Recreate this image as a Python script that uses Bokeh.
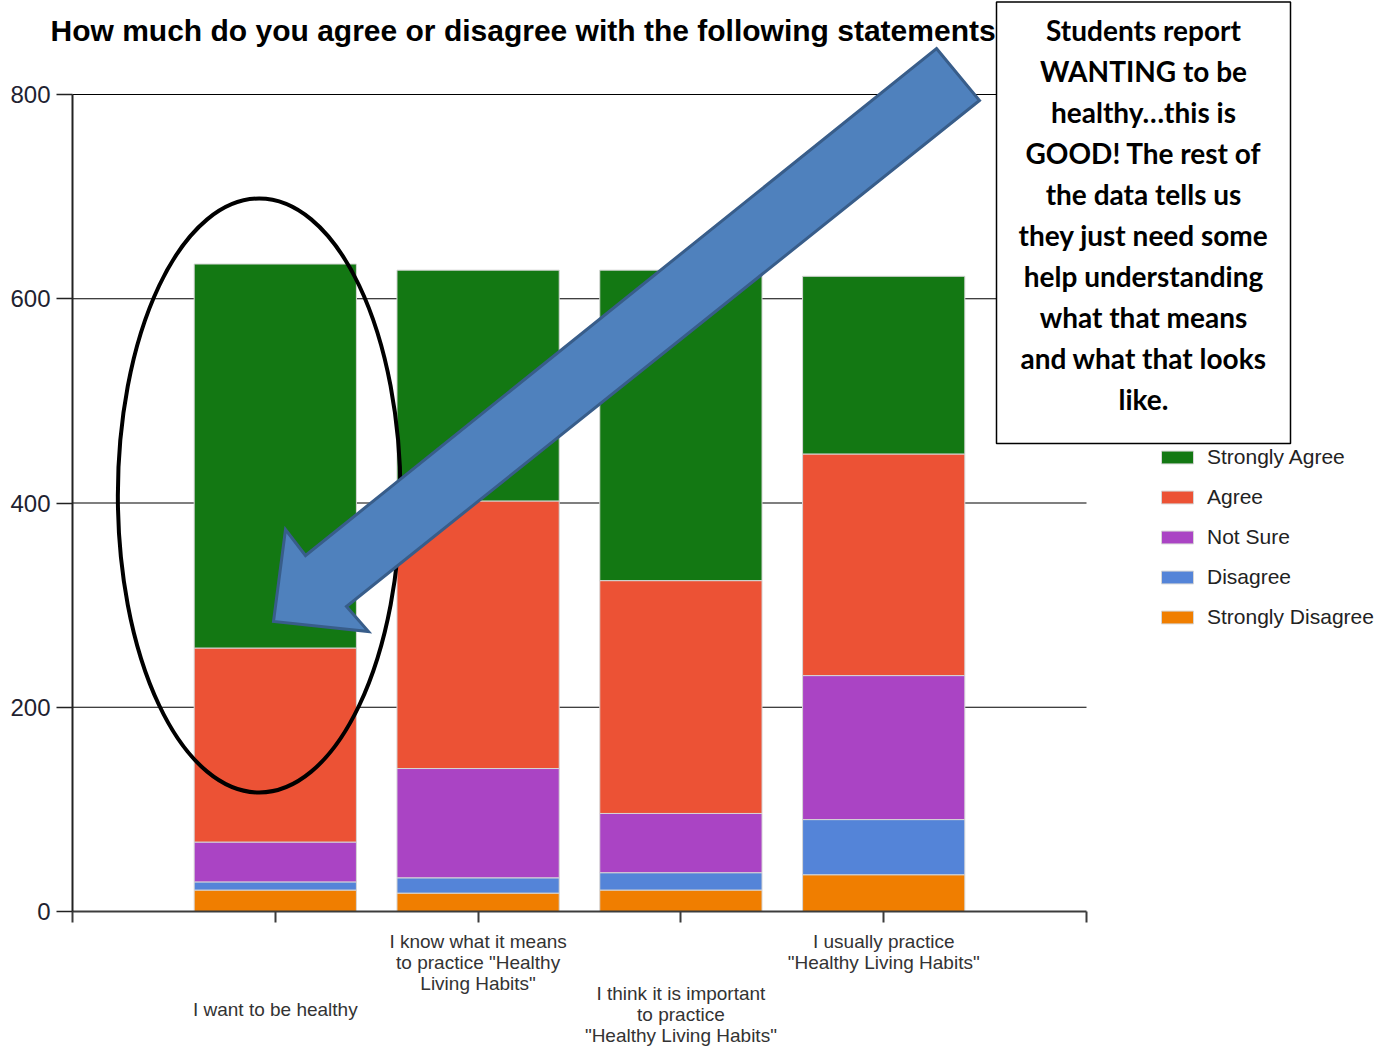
from bokeh.plotting import figure
from bokeh.models import (Range1d, LinearAxis, FixedTicker, Legend, LegendItem,
                          ColumnDataSource)
from bokeh.core.properties import value
from bokeh.embed import file_html
from bokeh.resources import INLINE

# ---------------- data ----------------
categories = [
    "I want to be healthy",
    "I know what it means\nto practice \"Healthy\nLiving Habits\"",
    "I think it is important\nto practice\n\"Healthy Living Habits\"",
    "I usually practice\n\"Healthy Living Habits\"",
]
responses = ["Strongly Disagree", "Disagree", "Not Sure", "Agree", "Strongly Agree"]
strongly_disagree = [21, 18, 21, 36]
disagree = [8, 15, 17, 54]
not_sure = [39, 107, 58, 141]
agree = [190, 262, 228, 217]
strongly_agree = [376, 226, 304, 174]
colors = ["#F07E00", "#5484D8", "#AA44C4", "#EC5235", "#137813"]
y_ticks = [0, 200, 400, 600, 800]
title_text = "How much do you agree or disagree with the following statements?"
note_lines = [
    "Students report",
    "WANTING to be",
    "healthy\u2026this is",
    "GOOD! The rest of",
    "the data tells us",
    "they just need some",
    "help understanding",
    "what that means",
    "and what that looks",
    "like.",
]

# ---------------- layout helpers (canvas px -> data) ----------------
W, H = 1374, 1048
X0_PX, PX_PER_X = 72.0, 202.8     # canvas x of x=0, px per category step
Y0_PX, PX_PER_Y = 911.0, 1.02125  # canvas y of y=0, px per unit


def s2x(sx):
    return (sx - X0_PX) / PX_PER_X


def s2y(sy):
    return (Y0_PX - sy) / PX_PER_Y


p = figure(width=W, height=H, x_range=Range1d(s2x(0), s2x(W)),
           y_range=Range1d(s2y(H), s2y(0)),
           x_axis_type=None, y_axis_type=None, toolbar_location=None,
           output_backend="svg", min_border=0, outline_line_color=None,
           title=None)
p.background_fill_color = "white"
p.border_fill_color = "white"

xs = list(range(1, len(categories) + 1))
src = ColumnDataSource(dict(x=xs, **{
    "Strongly Disagree": strongly_disagree,
    "Disagree": disagree,
    "Not Sure": not_sure,
    "Agree": agree,
    "Strongly Agree": strongly_agree,
}))

# gridlines (stop at the chart's right edge)
grid_y = y_ticks[1:]
p.segment(x0=[0] * len(grid_y), x1=[len(categories) + 1] * len(grid_y),
          y0=grid_y, y1=grid_y, line_color="black", line_width=1.2)

# stacked bars
rs = p.vbar_stack(responses, x="x", width=0.8, color=colors, source=src,
                  line_color="#d6d6d6", line_width=1)

# title
p.text(x=[s2x(50)], y=[s2y(30)], text=[title_text],
       text_font=value("Liberation Sans"), text_font_style="bold",
       text_font_size="30px", text_align="left", text_baseline="middle",
       text_color="black")

# ellipse highlight
p.ellipse(x=[s2x(258.7)], y=[s2y(495)], width=[282.7 / PX_PER_X],
          height=[594 / PX_PER_Y], fill_color=None, line_color="black",
          line_width=4)

# block arrow
arrow_sx = [936, 979, 346, 368, 273, 285, 305]
arrow_sy = [48, 100, 606, 631, 621, 529, 555]
p.patch(x=[s2x(v) for v in arrow_sx], y=[s2y(v) for v in arrow_sy],
        fill_color="#4F81BD", line_color="#385D8A", line_width=3,
        line_join="miter")

# note box
p.quad(left=[s2x(996)], right=[s2x(1290)], top=[s2y(1.5)], bottom=[s2y(443)],
       fill_color="white", line_color="black", line_width=1.5)
p.text(x=[s2x(1143)] * len(note_lines),
       y=[s2y(29 + 41.1 * i) for i in range(len(note_lines))],
       text=note_lines, text_font=value("Lato"), text_font_style="bold",
       text_font_size="28px", text_align="center", text_baseline="middle",
       text_color="black")

# axes
yaxis = LinearAxis(ticker=FixedTicker(ticks=y_ticks), fixed_location=0,
                   bounds=(0, 800), major_tick_out=16, major_tick_in=0,
                   minor_tick_out=0, minor_tick_in=0,
                   axis_line_color="#222222", axis_line_width=2,
                   major_tick_line_color="#222222", major_tick_line_width=1.5,
                   major_label_standoff=6, major_label_text_font_size="24px",
                   major_label_text_font="Liberation Sans",
                   major_label_text_color="#1e2230")
p.add_layout(yaxis, "left")

tick_pos = list(range(0, len(categories) + 2))
over_main = {t: "" for t in tick_pos}
over_main[2] = categories[1]
over_main[4] = categories[3]
xaxis = LinearAxis(ticker=FixedTicker(ticks=tick_pos), fixed_location=0,
                   bounds=(0, len(categories) + 1), major_tick_out=11,
                   major_tick_in=0, minor_tick_out=0, minor_tick_in=0,
                   axis_line_color="#3c3c3c", axis_line_width=2,
                   major_tick_line_color="#3c3c3c", major_tick_line_width=2,
                   major_label_overrides=over_main, major_label_standoff=8,
                   major_label_text_font_size="19px",
                   major_label_text_font="Liberation Sans",
                   major_label_text_color="#333333",
                   major_label_text_line_height=1.0)
p.add_layout(xaxis, "below")


def low_axis(tick, standoff):
    ax = LinearAxis(ticker=FixedTicker(ticks=[tick]), fixed_location=0,
                    axis_line_color=None, major_tick_out=0, major_tick_in=0,
                    minor_tick_out=0, minor_tick_in=0,
                    major_tick_line_color=None,
                    major_label_overrides={tick: categories[tick - 1]},
                    major_label_standoff=standoff,
                    major_label_text_font_size="19px",
                    major_label_text_font="Liberation Sans",
                    major_label_text_color="#333333",
                    major_label_text_line_height=1.0)
    p.add_layout(ax, "below")


low_axis(1, 87)
low_axis(3, 71)

# legend
items = [LegendItem(label=responses[i], renderers=[rs[i]])
         for i in reversed(range(len(responses)))]
legend = Legend(items=items, location=(1157, 419), orientation="vertical",
                glyph_width=40, glyph_height=16, label_standoff=10,
                padding=0, margin=0, spacing=16, label_height=20,
                border_line_color=None, background_fill_alpha=0,
                label_text_font="Liberation Sans", label_text_font_size="21px",
                label_text_color="#222222")
p.add_layout(legend)

open("out.html", "w").write(file_html(p, INLINE))
